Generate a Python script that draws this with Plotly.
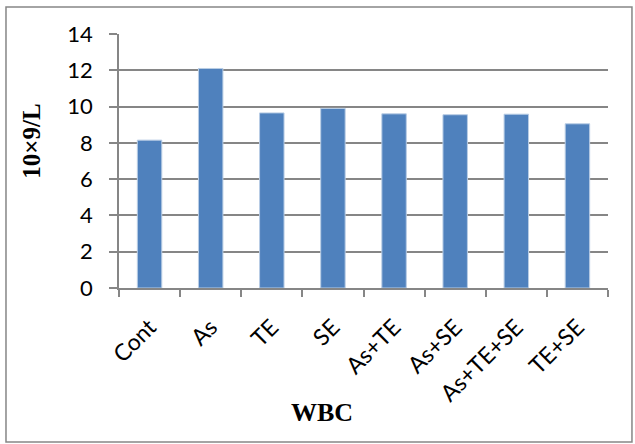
import plotly.graph_objects as go

# WBC counts per treatment group
groups = ["Cont", "As", "TE", "SE", "As+TE", "As+SE", "As+TE+SE", "TE+SE"]
wbc = [8.15, 12.1, 9.65, 9.9, 9.6, 9.55, 9.58, 9.05]
y_ticks = [0, 2, 4, 6, 8, 10, 12, 14]

grid = "#868686"

fig = go.Figure(
    go.Bar(
        x=groups,
        y=wbc,
        marker=dict(color="#4F81BD", line=dict(color="#B9CDE5", width=1)),
        width=0.4,
    )
)

fig.update_layout(
    width=635,
    height=444,
    margin=dict(l=119, r=27, t=34, b=156),
    paper_bgcolor="white",
    plot_bgcolor="white",
    showlegend=False,
    font=dict(family="Lato, Open Sans, sans-serif", size=22, color="black"),
    xaxis=dict(
        type="category",
        tickangle=-45,
        ticks="outside",
        tickson="boundaries",
        ticklen=7,
        tickcolor=grid,
        tickwidth=1.5,
        ticklabelstandoff=15,
        showline=True,
        linecolor=grid,
        linewidth=1.5,
        showgrid=False,
        tickfont=dict(size=23),
    ),
    yaxis=dict(
        range=[0, 14],
        tickvals=y_ticks,
        ticks="outside",
        ticklen=8,
        tickcolor=grid,
        tickwidth=1.5,
        ticklabelstandoff=12,
        showline=True,
        linecolor=grid,
        linewidth=1.5,
        showgrid=True,
        gridcolor=grid,
        gridwidth=2,
        zeroline=False,
        tickfont=dict(size=22),
    ),
    annotations=[
        dict(
            text="<b>10×9/L</b>",
            xref="paper", yref="paper",
            x=-0.178, y=0.58,
            xanchor="center", yanchor="middle",
            textangle=-90,
            showarrow=False,
            font=dict(family="Liberation Serif, Times New Roman, serif", size=25, color="black"),
        ),
        dict(
            text="<b>WBC</b>",
            xref="paper", yref="paper",
            x=0.415, y=-0.492,
            xanchor="center", yanchor="middle",
            showarrow=False,
            font=dict(family="Liberation Serif, Times New Roman, serif", size=26, color="black"),
        ),
    ],
    shapes=[
        dict(
            type="rect",
            xref="paper", yref="paper",
            x0=-0.2311, x1=1.049, y0=-0.606, y1=1.106,
            line=dict(color=grid, width=1.5),
            fillcolor="rgba(0,0,0,0)",
            layer="below",
        )
    ],
)

fig.write_html("out.html")
